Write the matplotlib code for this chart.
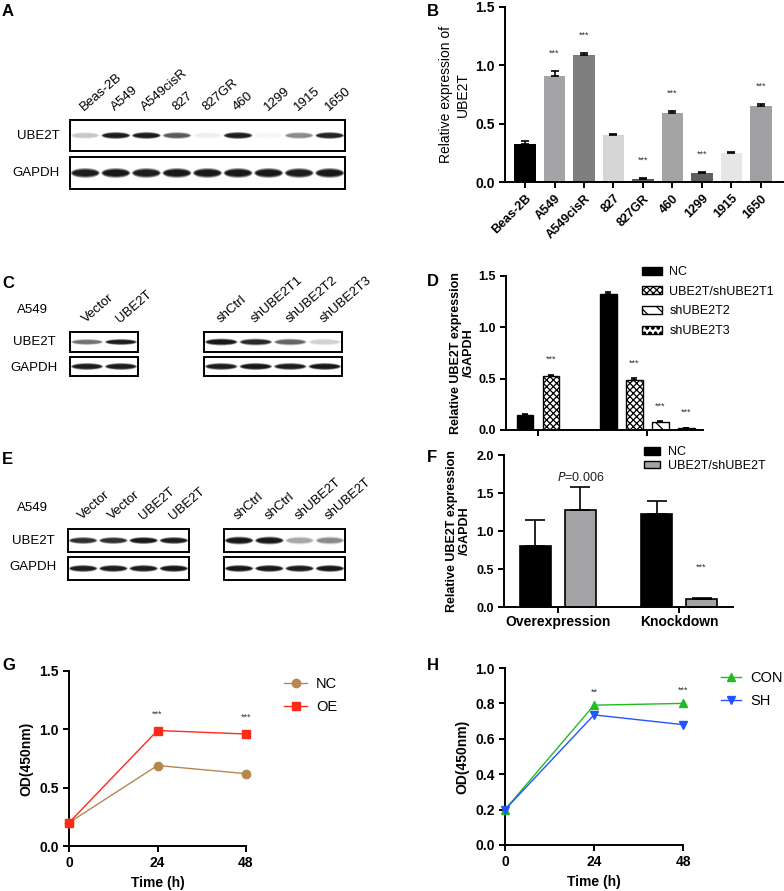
import matplotlib
matplotlib.use("Agg")
import matplotlib.pyplot as plt
from matplotlib.patches import Rectangle, Ellipse, Patch
from matplotlib.lines import Line2D
import numpy as np

plt.rcParams["font.family"] = ["Liberation Sans", "DejaVu Sans"]
plt.rcParams["hatch.linewidth"] = 0.9

# ---- data ----
# panel A blot (band intensity 0..1)
a_lanes = ["Beas-2B", "A549", "A549cisR", "827", "827GR", "460", "1299", "1915", "1650"]
a_ube2t = [0.15, 0.95, 0.95, 0.55, 0.04, 0.95, 0.02, 0.35, 0.9]
a_gapdh = [0.95, 1.0, 0.95, 1.0, 1.0, 1.0, 1.0, 0.95, 1.0]

# panel B
b_cells = ["Beas-2B", "A549", "A549cisR", "827", "827GR", "460", "1299", "1915", "1650"]
b_values = [0.33, 0.91, 1.09, 0.40, 0.03, 0.59, 0.08, 0.25, 0.65]
b_err = [0.025, 0.04, 0.015, 0.008, 0.008, 0.022, 0.01, 0.01, 0.02]
b_sig = ["", "***", "***", "", "***", "***", "***", "", "***"]
b_colors = ["#000000", "#a3a3a8", "#7f7f7f", "#d6d6d6", "#5a5a5a",
            "#a3a3a3", "#5f5f5f", "#e6e6e6", "#a0a0a4"]

# panel C blots
c_left_lanes = ["Vector", "UBE2T"]
c_left_ube2t = [0.45, 0.95]
c_left_gapdh = [0.95, 0.95]
c_right_lanes = ["shCtrl", "shUBE2T1", "shUBE2T2", "shUBE2T3"]
c_right_ube2t = [1.0, 0.85, 0.5, 0.12]
c_right_gapdh = [0.95, 1.0, 0.95, 1.0]

# panel D
d_labels = ["NC", "UBE2T/shUBE2T1", "shUBE2T2", "shUBE2T3"]
d_over = [0.15, 0.53]
d_over_err = [0.005, 0.006]
d_over_sig = ["", "***"]
d_knock = [1.32, 0.49, 0.08, 0.02]
d_knock_err = [0.02, 0.015, 0.005, 0.003]
d_knock_sig = ["", "***", "***", "***"]

# panel E blots
e_left_lanes = ["Vector", "Vector", "UBE2T", "UBE2T"]
e_left_ube2t = [0.8, 0.8, 1.0, 0.95]
e_left_gapdh = [0.95, 0.95, 0.95, 1.0]
e_right_lanes = ["shCtrl", "shCtrl", "shUBE2T", "shUBE2T"]
e_right_ube2t = [1.0, 1.0, 0.25, 0.35]
e_right_gapdh = [1.0, 1.0, 0.95, 1.0]

# panel F
f_groups = ["Overexpression", "Knockdown"]
f_nc = [0.80, 1.22]
f_nc_err = [0.34, 0.18]
f_mod = [1.27, 0.10]
f_mod_err = [0.31, 0.02]

# panel G / H
time_h = [0, 24, 48]
g_nc = [0.20, 0.69, 0.62]
g_oe = [0.20, 0.99, 0.96]
g_sig = ["", "***", "***"]
h_con = [0.20, 0.79, 0.80]
h_sh = [0.20, 0.735, 0.68]
h_sig = ["", "**", "***"]

# ---- figure ----
W, H = 784, 891
fig = plt.figure(figsize=(W / 100, H / 100), dpi=100)


def box(l, t, r, b):
    return [l / W, 1 - b / H, (r - l) / W, (b - t) / H]


ov = fig.add_axes([0, 0, 1, 1])
ov.set_xlim(0, W)
ov.set_ylim(H, 0)
ov.axis("off")

for letter, x, y in [("A", 2, 12), ("B", 427, 12), ("C", 2, 283), ("D", 427, 282),
                     ("E", 2, 459), ("F", 427, 457), ("G", 2, 666), ("H", 427, 665)]:
    ov.text(x, y, letter, fontsize=12, fontweight="bold", ha="left", va="center")


def blot(l, r, t, b, levels, band_h):
    ov.add_patch(Rectangle((l, t), r - l, b - t, fill=False, ec="black", lw=1.4))
    n = len(levels)
    step = (r - l) / n
    yc = (t + b) / 2
    for i, v in enumerate(levels):
        x = l + (i + 0.5) * step
        for k, a in [(1.0, 0.35), (0.8, 0.5), (0.6, 0.7)]:
            ov.add_patch(Ellipse((x, yc), step * 0.95 * (0.7 + 0.3 * k), band_h * k,
                                 color="black", alpha=a * v, lw=0))


def lane_labels(l, r, y, names):
    step = (r - l) / len(names)
    for i, nm in enumerate(names):
        x = l + (i + 0.5) * step - 1
        ov.text(x, y, nm, rotation=41, ha="left", va="baseline",
                rotation_mode="anchor", fontsize=9.5)


# A
blot(70, 345, 120, 151, a_ube2t, 7)
blot(70, 345, 157, 189, a_gapdh, 10)
lane_labels(70, 345, 111, a_lanes)
ov.text(60, 136, "UBE2T", ha="right", va="center", fontsize=9.5)
ov.text(60, 173, "GAPDH", ha="right", va="center", fontsize=9.5)

# C
blot(70, 138, 332, 352, c_left_ube2t, 6)
blot(70, 138, 357, 376, c_left_gapdh, 7)
blot(204, 342, 332, 352, c_right_ube2t, 7)
blot(204, 342, 357, 376, c_right_gapdh, 7)
lane_labels(70, 138, 323, c_left_lanes)
lane_labels(204, 342, 323, c_right_lanes)
ov.text(32, 310, "A549", ha="center", va="center", fontsize=9.5)
ov.text(56, 342, "UBE2T", ha="right", va="center", fontsize=9.5)
ov.text(58, 368, "GAPDH", ha="right", va="center", fontsize=9.5)

# E
blot(68, 189, 529, 552, e_left_ube2t, 7)
blot(68, 189, 557, 580, e_left_gapdh, 7)
blot(224, 345, 529, 552, e_right_ube2t, 8)
blot(224, 345, 557, 580, e_right_gapdh, 7)
lane_labels(68, 189, 520, e_left_lanes)
lane_labels(224, 345, 520, e_right_lanes)
ov.text(32, 508, "A549", ha="center", va="center", fontsize=9.5)
ov.text(55, 541, "UBE2T", ha="right", va="center", fontsize=9.5)
ov.text(57, 567, "GAPDH", ha="right", va="center", fontsize=9.5)


def style(ax):
    ax.set_facecolor("none")
    for s in ["top", "right"]:
        ax.spines[s].set_visible(False)
    for s in ["left", "bottom"]:
        ax.spines[s].set_linewidth(1.4)
    ax.tick_params(width=1.4, length=4, labelsize=9)


def bold_ticks(ax):
    for lab in ax.get_xticklabels() + ax.get_yticklabels():
        lab.set_fontweight("bold")


ekw = dict(lw=1.2, capthick=1.2, ecolor="black")

# B
axb = fig.add_axes(box(505, 7, 783, 182))
style(axb)
xb = np.arange(len(b_cells))
axb.bar(xb, b_values, width=0.74, color=b_colors,
        yerr=[np.zeros(len(b_values)), b_err], capsize=3, error_kw=ekw)
for x, v, e, s in zip(xb, b_values, b_err, b_sig):
    if s:
        axb.text(x, v + e + 0.15, s, ha="center", va="center", fontsize=6.5, color="#333333")
axb.set_xlim(-0.68, 8.75)
axb.set_ylim(0, 1.5)
axb.set_yticks([0, 0.5, 1.0, 1.5])
axb.set_yticklabels(["0.0", "0.5", "1.0", "1.5"])
axb.set_xticks(xb)
axb.set_xticklabels(b_cells, rotation=45, ha="right", rotation_mode="anchor")
axb.tick_params(axis="y", labelsize=10)
bold_ticks(axb)
axb.set_ylabel("Relative expression of\nUBE2T", fontsize=10)

# D
axd = fig.add_axes(box(506, 276, 703, 430))
style(axd)
centers = [0, 4.2]
hatches = ["", "xxxxx", "\\\\", "ooo"]
faces = ["black", "white", "white", "white"]
for c, vals, errs, sigs in [(centers[0], d_over, d_over_err, d_over_sig),
                            (centers[1], d_knock, d_knock_err, d_knock_sig)]:
    n = len(vals)
    for i, (v, e, s) in enumerate(zip(vals, errs, sigs)):
        x = c + (i - (n - 1) / 2)
        axd.bar(x, v, width=0.65, color=faces[i], edgecolor="black", hatch=hatches[i],
                lw=1.0, yerr=[[0], [e]], capsize=2.5, error_kw=ekw)
        if s:
            axd.text(x, v + e + 0.15, s, ha="center", va="center", fontsize=6.5, color="#333333")
axd.set_xlim(-1.23, 6.35)
axd.set_ylim(0, 1.5)
axd.set_yticks([0, 0.5, 1.0, 1.5])
axd.set_yticklabels(["0.0", "0.5", "1.0", "1.5"])
axd.set_xticks(centers)
axd.set_xticklabels(["", ""])
bold_ticks(axd)
axd.set_ylabel("Relative UBE2T expression\n/GAPDH", fontsize=9, fontweight="bold",
               labelpad=2, linespacing=1.1)
dh = [Patch(facecolor=faces[i], edgecolor="black", hatch=hatches[i]) for i in range(4)]
fig.legend(dh, d_labels, loc="upper left", bbox_to_anchor=(642 / W, 1 - 266 / H),
           frameon=False, fontsize=9, borderpad=0, borderaxespad=0,
           handlelength=1.6, handleheight=0.6, handletextpad=0.6, labelspacing=0.62)

# F
axf = fig.add_axes(box(504, 455, 733, 607))
style(axf)
fc = [0, 2.69]
axf.bar([c - 0.5 for c in fc], f_nc, width=0.67, color="black", edgecolor="black", lw=1.2,
        yerr=[[0, 0], f_nc_err], capsize=7, error_kw=ekw)
axf.bar([c + 0.5 for c in fc], f_mod, width=0.67, color="#a3a3a6", edgecolor="black", lw=1.2,
        yerr=[[0, 0], f_mod_err], capsize=7, error_kw=ekw)
axf.text(fc[0] + 0.5, 1.70, "$P$=0.006", ha="center", va="center", fontsize=9, color="#222222")
axf.text(fc[1] + 0.5, 0.52, "***", ha="center", va="center", fontsize=6.5, color="#333333")
axf.set_xlim(-1.2, 3.89)
axf.set_ylim(0, 2.0)
axf.set_yticks([0, 0.5, 1.0, 1.5, 2.0])
axf.set_yticklabels(["0.0", "0.5", "1.0", "1.5", "2.0"])
axf.set_xticks(fc)
axf.set_xticklabels(f_groups)
axf.tick_params(axis="x", labelsize=10, pad=2)
bold_ticks(axf)
axf.set_ylabel("Relative UBE2T expression\n/GAPDH", fontsize=9, fontweight="bold",
               linespacing=1.1)
fh = [Patch(facecolor="black", edgecolor="black"), Patch(facecolor="#a3a3a6", edgecolor="black")]
fig.legend(fh, ["NC", "UBE2T/shUBE2T"], loc="upper left", bbox_to_anchor=(644 / W, 1 - 446 / H),
           frameon=False, fontsize=9, borderpad=0, borderaxespad=0,
           handlelength=1.3, handleheight=0.6, handletextpad=0.6, labelspacing=0.15)

# G
axg = fig.add_axes(box(69, 671, 246, 846))
style(axg)
nc_col, oe_col = "#b5884f", "#ff2a1a"
axg.plot(time_h, g_nc, color=nc_col, marker="o", ms=6, lw=1.0, clip_on=False, zorder=3)
axg.plot(time_h, g_oe, color=oe_col, marker="s", ms=6, lw=1.0, clip_on=False, zorder=3)
for t, v, s in zip(time_h, g_oe, g_sig):
    if s:
        axg.text(t, v + 0.14, s, ha="center", va="center", fontsize=6.5, color="#333333")
axg.set_xlim(0, 48)
axg.set_ylim(0, 1.5)
axg.set_xticks(time_h)
axg.set_yticks([0, 0.5, 1.0, 1.5])
axg.set_yticklabels(["0.0", "0.5", "1.0", "1.5"])
axg.tick_params(labelsize=10)
bold_ticks(axg)
axg.set_xlabel("Time (h)", fontsize=10, fontweight="bold")
axg.set_ylabel("OD(450nm)", fontsize=10, fontweight="bold")
gh = [Line2D([], [], color=nc_col, marker="o", ms=6, lw=1.0),
      Line2D([], [], color=oe_col, marker="s", ms=6, lw=1.0)]
fig.legend(gh, ["NC", "OE"], loc="upper left", bbox_to_anchor=(284 / W, 1 - 677 / H),
           frameon=False, fontsize=10.5, borderpad=0, borderaxespad=0,
           handlelength=1.6, handletextpad=0.6, labelspacing=0.6)

# H
axh = fig.add_axes(box(505, 668, 683, 845))
style(axh)
con_col, sh_col = "#22bb22", "#2255ff"
axh.plot(time_h, h_con, color=con_col, marker="^", ms=6, lw=1.0, clip_on=False, zorder=3)
axh.plot(time_h, h_sh, color=sh_col, marker="v", ms=6, lw=1.0, clip_on=False, zorder=3)
for t, v, s in zip(time_h, h_con, h_sig):
    if s:
        axh.text(t, v + 0.075, s, ha="center", va="center", fontsize=6.5, color="#333333")
axh.set_xlim(0, 48)
axh.set_ylim(0, 1.0)
axh.set_xticks(time_h)
axh.set_yticks([0, 0.2, 0.4, 0.6, 0.8, 1.0])
axh.set_yticklabels(["0.0", "0.2", "0.4", "0.6", "0.8", "1.0"])
axh.tick_params(labelsize=10)
bold_ticks(axh)
axh.set_xlabel("Time (h)", fontsize=10, fontweight="bold")
axh.set_ylabel("OD(450nm)", fontsize=10, fontweight="bold")
hh = [Line2D([], [], color=con_col, marker="^", ms=6, lw=1.0),
      Line2D([], [], color=sh_col, marker="v", ms=6, lw=1.0)]
fig.legend(hh, ["CON", "SH"], loc="upper left", bbox_to_anchor=(721 / W, 1 - 671 / H),
           frameon=False, fontsize=10.5, borderpad=0, borderaxespad=0,
           handlelength=1.4, handletextpad=0.6, labelspacing=0.6)

fig.savefig("out.png", dpi=100)
